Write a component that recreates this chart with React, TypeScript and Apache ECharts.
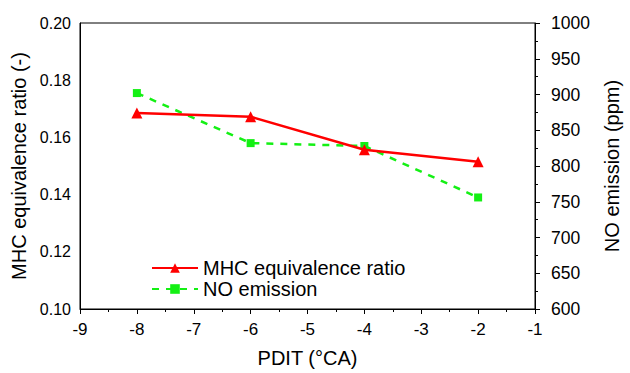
import React, { useEffect, useRef } from "react";
import * as echarts from "echarts";

const pdit = [-8, -6, -4, -2];
const mhcRatio = [0.1685, 0.1672, 0.1557, 0.1515];
const noEmission = [902, 832, 828, 756];
const xTicks = { min: -9, max: -1, interval: 1 };
const leftTicks = { min: 0.1, max: 0.2, interval: 0.02 };
const rightTicks = { min: 600, max: 1000, interval: 50 };

const FONT = "'Liberation Sans', Arial, sans-serif";

export default function App() {
  const ref = useRef<HTMLDivElement>(null);
  useEffect(() => {
    if (!ref.current) return;
    const chart = echarts.init(ref.current, undefined, { renderer: "svg" });
    chart.setOption({
      animation: false,
      backgroundColor: "#fff",
      textStyle: { fontFamily: FONT, color: "#000" },
      grid: {
        left: 80,
        right: 88,
        top: 23,
        bottom: 60,
        show: true,
        borderColor: "#000",
        borderWidth: 1,
        backgroundColor: "transparent",
      },
      legend: {
        orient: "vertical",
        left: 146,
        top: 253,
        itemWidth: 46,
        itemHeight: 12,
        itemGap: 1,
        textStyle: { fontSize: 20, color: "#000", fontFamily: FONT },
        data: ["MHC equivalence ratio", "NO emission"],
      },
      xAxis: {
        type: "value",
        min: xTicks.min,
        max: xTicks.max,
        interval: xTicks.interval,
        name: "PDIT (°CA)",
        nameLocation: "middle",
        nameGap: 39,
        nameTextStyle: { fontSize: 20, color: "#000", fontFamily: FONT },
        axisLine: { show: true, onZero: false, lineStyle: { color: "#000", width: 1 } },
        axisTick: { show: true, inside: false, length: 5, lineStyle: { color: "#000" } },
        minorTick: { show: true, splitNumber: 2, length: 3, lineStyle: { color: "#000" } },
        axisLabel: { fontSize: 17, color: "#000", margin: 12, fontFamily: FONT },
        splitLine: { show: false },
      },
      yAxis: [
        {
          type: "value",
          position: "left",
          min: leftTicks.min,
          max: leftTicks.max,
          interval: leftTicks.interval,
          name: "MHC equivalence ratio (-)",
          nameLocation: "middle",
          nameGap: 50,
          nameTextStyle: { fontSize: 20, color: "#000", fontFamily: FONT },
          axisLine: { show: true, lineStyle: { color: "#000", width: 1 } },
          axisTick: { show: false },
          axisLabel: {
            fontSize: 16,
            color: "#000",
            margin: 9,
            fontFamily: FONT,
            formatter: (v: number) => v.toFixed(2),
          },
          splitLine: { show: false },
        },
        {
          type: "value",
          position: "right",
          min: rightTicks.min,
          max: rightTicks.max,
          interval: rightTicks.interval,
          name: "NO emission (ppm)",
          nameLocation: "middle",
          nameGap: 67,
          nameRotate: 90,
          nameTextStyle: { fontSize: 20, color: "#000", fontFamily: FONT },
          axisLine: { show: true, lineStyle: { color: "#000", width: 1 } },
          axisTick: { show: true, inside: false, length: 5, lineStyle: { color: "#000" } },
          minorTick: { show: true, splitNumber: 2, length: 3, lineStyle: { color: "#000" } },
          axisLabel: {
            fontSize: 17.5,
            color: "#000",
            margin: 16,
            fontFamily: FONT,
            formatter: (v: number) => String(v),
          },
          splitLine: { show: false },
        },
      ],
      series: [
        {
          name: "MHC equivalence ratio",
          type: "line",
          yAxisIndex: 0,
          data: pdit.map((x, i) => [x, mhcRatio[i]]),
          symbol: "triangle",
          symbolSize: 11,
          itemStyle: { color: "#ff0000" },
          lineStyle: { color: "#ff0000", width: 2.5 },
          z: 3,
        },
        {
          name: "NO emission",
          type: "line",
          yAxisIndex: 1,
          data: pdit.map((x, i) => [x, noEmission[i]]),
          symbol: "rect",
          symbolSize: 8,
          itemStyle: { color: "#14f014" },
          lineStyle: { color: "#14f014", width: 2.5, type: [7, 7] },
          z: 2,
        },
      ],
    });
    return () => chart.dispose();
  }, []);
  return (
    <div
      ref={ref}
      style={{ position: "absolute", left: 0, top: 0, width: 630, height: 373 }}
    />
  );
}
